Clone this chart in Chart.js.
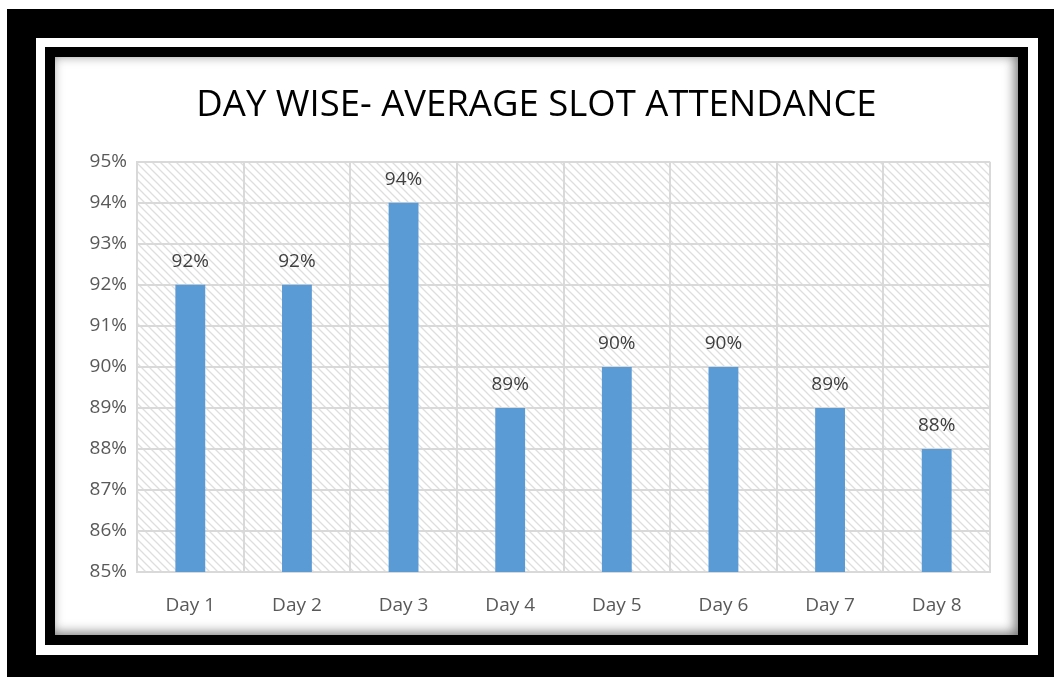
<!DOCTYPE html>
<html>
<head>
<meta charset="utf-8">
<title>Day wise - average slot attendance</title>
<script src="https://cdn.jsdelivr.net/npm/chart.js@4"></script>
<style>
  body { margin: 0; background: #fff; }
  .box { position: absolute; }
  #outer { left: 7px; top: 9px; width: 1047px; height: 668px; background: #000; }
  #band { left: 36px; top: 38px; width: 1002px; height: 617px; background: #fff; }
  #inner { left: 45px; top: 47px; width: 983px; height: 598px; background: #000; }
  #card { left: 55px; top: 57px; width: 963px; height: 578px; background: #fff; }
  #shade { left: 55px; top: 57px; width: 963px; height: 578px; pointer-events: none;
    box-shadow: inset -3px -2px 12px rgba(0, 0, 0, 0.55); }
  #myChart { position: absolute; left: 55px; top: 57px; }
</style>
</head>
<body>
<div class="box" id="outer"></div>
<div class="box" id="band"></div>
<div class="box" id="inner"></div>
<div class="box" id="card"></div>
<canvas id="myChart" width="963" height="578"></canvas>
<div class="box" id="shade"></div>
<script>
'use strict';
// values
const days = ['Day 1', 'Day 2', 'Day 3', 'Day 4', 'Day 5', 'Day 6', 'Day 7', 'Day 8'];
const attendance = [92, 92, 94, 89, 90, 90, 89, 88];
const yTicks = [85, 86, 87, 88, 89, 90, 91, 92, 93, 94, 95];

const gridGray = '#d9d9d9';
const textGray = '#595959';

// diagonal hatch tile for the plot background
function makeHatch() {
  const c = document.createElement('canvas');
  c.width = 8;
  c.height = 8;
  const g = c.getContext('2d');
  g.strokeStyle = '#dedede';
  g.lineWidth = 1.3;
  g.beginPath();
  g.moveTo(-1, -1); g.lineTo(9, 9);
  g.moveTo(-1, 7); g.lineTo(1, 9);
  g.moveTo(7, -1); g.lineTo(9, 1);
  g.stroke();
  return c;
}
const hatch = makeHatch();

const hatchBg = {
  id: 'hatchBg',
  beforeDraw(chart) {
    const a = chart.chartArea;
    const ctx = chart.ctx;
    ctx.save();
    ctx.fillStyle = ctx.createPattern(hatch, 'repeat');
    ctx.fillRect(a.left, a.top, a.right - a.left, a.bottom - a.top);
    ctx.restore();
  }
};

const barLabels = {
  id: 'barLabels',
  afterDatasetsDraw(chart) {
    const ctx = chart.ctx;
    const meta = chart.getDatasetMeta(0);
    ctx.save();
    ctx.font = '19px "Open Sans"';
    ctx.fillStyle = '#404040';
    ctx.textAlign = 'center';
    ctx.textBaseline = 'middle';
    meta.data.forEach(function (bar, i) {
      ctx.fillText(attendance[i] + '%', bar.x, bar.y - 23);
    });
    ctx.restore();
  }
};

var ctx = document.getElementById('myChart').getContext('2d');
var myChart = new Chart(ctx, {
  type: 'bar',
  data: {
    labels: days,
    datasets: [{
      label: 'Average slot attendance',
      data: attendance,
      backgroundColor: '#5b9bd5',
      barPercentage: 0.28,
      categoryPercentage: 1
    }]
  },
  options: {
    responsive: false,
    animation: false,
    devicePixelRatio: 1,
    layout: { padding: 0 },
    plugins: {
      legend: { display: false },
      tooltip: { enabled: false },
      title: {
        display: true,
        text: 'DAY WISE- AVERAGE SLOT ATTENDANCE',
        color: '#000',
        font: { family: 'Open Sans', size: 36.5, weight: 'normal' },
        padding: { top: 27, bottom: 34 }
      }
    },
    scales: {
      x: {
        afterFit: function (s) { s.height = 63; },
        grid: { color: gridGray, lineWidth: 2, drawTicks: false },
        border: { color: gridGray, width: 2 },
        ticks: { color: textGray, padding: 22, font: { family: 'Open Sans', size: 19 } }
      },
      y: {
        min: yTicks[0],
        max: yTicks[yTicks.length - 1],
        afterFit: function (s) { s.width = 82; },
        afterBuildTicks: function (s) { s.ticks = yTicks.map(function (v) { return { value: v }; }); },
        grid: { color: gridGray, lineWidth: 2, drawTicks: false },
        border: { color: gridGray, width: 2 },
        ticks: {
          color: textGray,
          padding: 10,
          font: { family: 'Open Sans', size: 19 },
          callback: function (v) { return v + '%'; }
        }
      },
      // empty right-hand strip so the title stays centred on the card
      spacer: {
        type: 'linear',
        position: 'right',
        afterFit: function (s) { s.width = 28; },
        grid: { display: false },
        border: { display: false },
        ticks: { display: false }
      }
    }
  },
  plugins: [hatchBg, barLabels]
});
</script>
</body>
</html>
